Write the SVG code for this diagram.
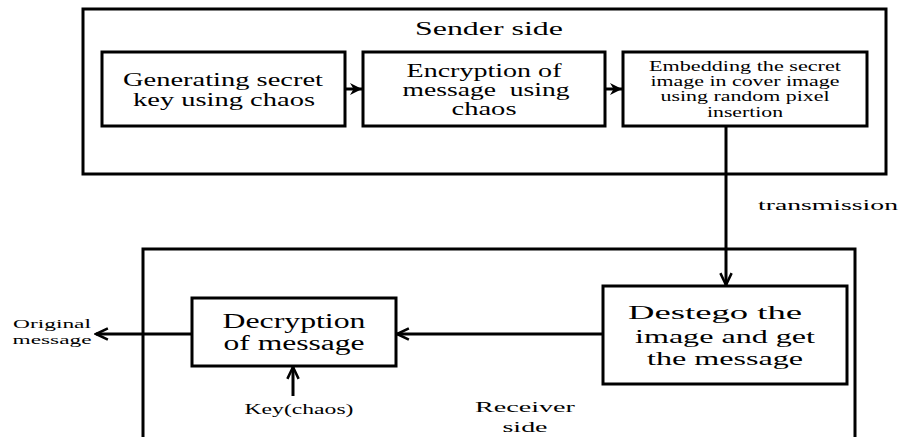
<svg xmlns="http://www.w3.org/2000/svg" width="902" height="437" viewBox="0 0 902 437">
  <style>
    .frame { fill: none; stroke: #000; stroke-width: 3; }
    .box { fill: #fff; stroke: #000; stroke-width: 3; }
    .wire { fill: none; stroke: #000; stroke-width: 3; }
    .t { font-family: "Liberation Serif", "DejaVu Serif", "Times New Roman", serif; fill: #000; text-anchor: middle; }
  </style>
  <defs>
    <marker id="solid" viewBox="0 0 10 10" refX="10" refY="5" markerWidth="4.5" markerHeight="4" orient="auto" markerUnits="strokeWidth">
      <path d="M0,0 L10,5 L0,10 L3,5 Z" fill="#000"/>
    </marker>
    <marker id="open" viewBox="0 0 12 12" refX="10.5" refY="6" markerWidth="5" markerHeight="5" orient="auto" markerUnits="strokeWidth">
      <path d="M1,1.5 L10.5,6 L1,10.5" fill="none" stroke="#000" stroke-width="2"/>
    </marker>
  </defs>

  <!-- sender frame -->
  <g id="sender">
    <rect class="frame" x="83" y="9" width="803" height="165"/>
    <text class="t" x="489" y="35" font-size="18" textLength="148" lengthAdjust="spacingAndGlyphs">Sender side</text>
  </g>

  <!-- receiver frame (open at the bottom) -->
  <g id="receiver">
    <path class="frame" d="M143,440 V249 H855 V440"/>
    <text class="t" x="525" y="412" font-size="15" textLength="100" lengthAdjust="spacingAndGlyphs">Receiver</text>
    <text class="t" x="525" y="432" font-size="15" textLength="45" lengthAdjust="spacingAndGlyphs">side</text>
  </g>

  <g id="keygen">
    <rect class="box" x="102" y="52" width="243" height="74"/>
    <text class="t" x="223" y="86" font-size="19" textLength="200" lengthAdjust="spacingAndGlyphs">Generating secret</text>
    <text class="t" x="224" y="106" font-size="19" textLength="182" lengthAdjust="spacingAndGlyphs">key using chaos</text>
  </g>

  <g id="encrypt">
    <rect class="box" x="363" y="52" width="242" height="74"/>
    <text class="t" x="484" y="77" font-size="18" textLength="155" lengthAdjust="spacingAndGlyphs">Encryption of</text>
    <text class="t" x="486" y="96" font-size="18" textLength="167" lengthAdjust="spacingAndGlyphs" xml:space="preserve">message  using</text>
    <text class="t" x="484" y="115" font-size="18" textLength="65" lengthAdjust="spacingAndGlyphs">chaos</text>
  </g>

  <g id="embed">
    <rect class="box" x="623" y="52" width="244" height="74"/>
    <text class="t" x="745" y="71" font-size="14" textLength="192" lengthAdjust="spacingAndGlyphs">Embedding the secret</text>
    <text class="t" x="745" y="86" font-size="14" textLength="189" lengthAdjust="spacingAndGlyphs">image in cover image</text>
    <text class="t" x="745" y="101" font-size="14" textLength="169" lengthAdjust="spacingAndGlyphs">using random pixel</text>
    <text class="t" x="745" y="117" font-size="14" textLength="76" lengthAdjust="spacingAndGlyphs">insertion</text>
  </g>

  <g id="destego">
    <rect class="box" x="603" y="286" width="244" height="98"/>
    <text class="t" x="715" y="319" font-size="19" textLength="174" lengthAdjust="spacingAndGlyphs">Destego the</text>
    <text class="t" x="725" y="343" font-size="19" textLength="180" lengthAdjust="spacingAndGlyphs">image and get</text>
    <text class="t" x="725" y="365" font-size="19" textLength="156" lengthAdjust="spacingAndGlyphs">the message</text>
  </g>

  <g id="decrypt">
    <rect class="box" x="192" y="298" width="204" height="68"/>
    <text class="t" x="294" y="328" font-size="20" textLength="143" lengthAdjust="spacingAndGlyphs">Decryption</text>
    <text class="t" x="294" y="350" font-size="20" textLength="141" lengthAdjust="spacingAndGlyphs">of message</text>
  </g>

  <g id="labels">
    <text class="t" x="828" y="210" font-size="15" textLength="140" lengthAdjust="spacingAndGlyphs">transmission</text>
    <text class="t" x="52" y="328" font-size="13" textLength="78" lengthAdjust="spacingAndGlyphs">Original</text>
    <text class="t" x="52" y="344" font-size="13" textLength="79" lengthAdjust="spacingAndGlyphs">message</text>
    <text class="t" x="299" y="414" font-size="14" textLength="109" lengthAdjust="spacingAndGlyphs">Key(chaos)</text>
  </g>

  <!-- connectors -->
  <g id="connectors">
    <line class="wire" x1="345" y1="89" x2="362" y2="89" marker-end="url(#solid)"/>
    <line class="wire" x1="605" y1="89" x2="622" y2="89" marker-end="url(#solid)"/>
    <line class="wire" x1="726" y1="126" x2="726" y2="285" marker-end="url(#open)"/>
    <line class="wire" x1="603" y1="334" x2="397" y2="334" marker-end="url(#open)"/>
    <line class="wire" x1="192" y1="334" x2="96" y2="334" marker-end="url(#open)"/>
    <line class="wire" x1="293" y1="396" x2="293" y2="367" marker-end="url(#open)"/>
  </g>
</svg>
